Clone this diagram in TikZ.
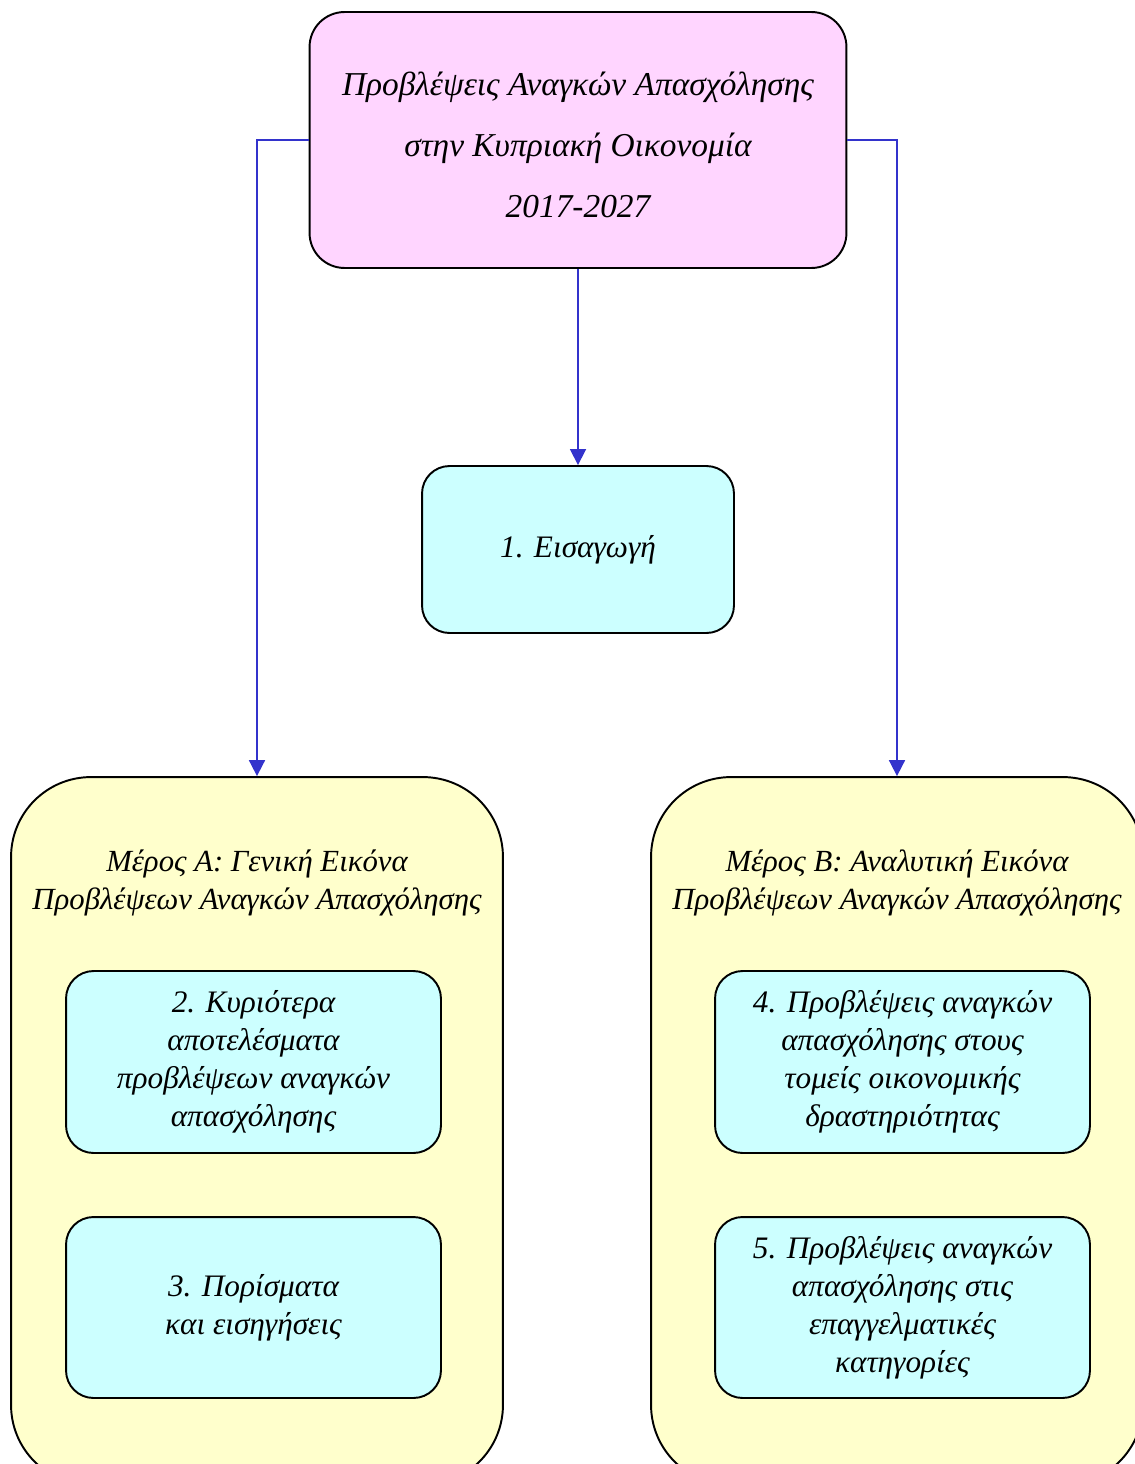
\documentclass[tikz,border=0pt]{standalone}
\usepackage{fontspec}
\setmainfont{Liberation Serif}
\usetikzlibrary{arrows.meta}
\definecolor{titlepink}{HTML}{FFD5FF}
\definecolor{chapcyan}{HTML}{CCFFFF}
\definecolor{partyellow}{HTML}{FFFFCC}
\definecolor{linkblue}{HTML}{3333CC}
\tikzset{
	titlebox/.style={draw=black, fill=titlepink, line width=1.1pt, rounded corners=0.7cm, minimum width=10.74cm, minimum height=5.12cm, inner sep=0pt, align=center, font=\itshape\fontsize{19}{34.7}\selectfont},
	chapbox/.style={draw=black, fill=chapcyan, line width=1.1pt, rounded corners=0.55cm, inner sep=0pt, align=center, font=\itshape\fontsize{17.8}{21.6}\selectfont},
	partbox/.style={draw=black, fill=partyellow, line width=1.1pt, rounded corners=1.6cm, minimum width=9.84cm, minimum height=14.16cm, inner sep=0pt},
	parttitle/.style={inner sep=0pt, align=center, font=\itshape\fontsize{17.5}{21.6}\selectfont},
	link/.style={draw=linkblue, line width=1pt, -{Triangle[length=0.32cm, width=0.32cm]}}
}
\begin{document}
\begin{tikzpicture}[x=0.02cm, y=-0.02cm]
			%%%%% START %%%%%
			
			\useasboundingbox (0, 0) rectangle (1135, 1464);
			
			\node[partbox] (partA) at (257, 1131) {};
			\node[partbox] (partB) at (897, 1131) {};
			
			\node[parttitle] (partAtitle) at (257, 883) {Μέρος Α: Γενική Εικόνα\\Προβλέψεων Αναγκών Απασχόλησης};
			\node[parttitle] (partBtitle) at (897, 883) {Μέρος Β: Αναλυτική Εικόνα\\Προβλέψεων Αναγκών Απασχόλησης};
			
			\node[titlebox] (title) at (578, 140) {};
			\node[inner sep=0pt, align=center, font=\itshape\fontsize{19}{34.7}\selectfont] (titletext) at (578, 145) {Προβλέψεις Αναγκών Απασχόλησης\\στην Κυπριακή Οικονομία\\2017-2027};
			
			\node[chapbox, minimum width=6.24cm, minimum height=3.34cm] (intro) at (578, 549.5) {1. Εισαγωγή};
			
			\node[chapbox, minimum width=7.5cm, minimum height=3.64cm] (results) at (253.5, 1062) {2. Κυριότερα\\αποτελέσματα\\προβλέψεων αναγκών\\απασχόλησης};
			\node[chapbox, minimum width=7.5cm, minimum height=3.62cm] (findings) at (253.5, 1307.5) {3. Πορίσματα\\και εισηγήσεις};
			
			\node[chapbox, minimum width=7.5cm, minimum height=3.64cm] (sectors) at (902.5, 1062) {4. Προβλέψεις αναγκών\\απασχόλησης στους\\τομείς οικονομικής\\δραστηριότητας};
			\node[chapbox, minimum width=7.5cm, minimum height=3.62cm] (occupations) at (902.5, 1307.5) {5. Προβλέψεις αναγκών\\απασχόλησης στις\\επαγγελματικές\\κατηγορίες};
			
			\draw[link] (title.south) -- (intro.north);
			\draw[link] (title.west) -| (partA.north);
			\draw[link] (title.east) -| (partB.north);
			
			%%%%% END %%%%%
\end{tikzpicture}
\end{document}
